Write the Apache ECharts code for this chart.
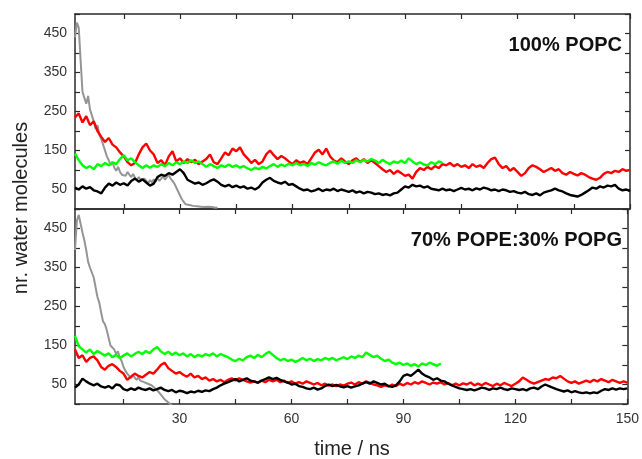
<!DOCTYPE html>
<html>
<head>
<meta charset="utf-8">
<script src="https://cdn.jsdelivr.net/npm/echarts@6/dist/echarts.min.js"></script>
<style>html,body{margin:0;padding:0;background:#fff;}#c{width:642px;height:459px;}</style>
</head>
<body>
<div id="c"></div>
<script>
// ---- data (number of water molecules vs time) ----
const T_START = 2;      // ns, first sample
const STEP = 1;         // ns between samples (red, black, green)
const GRAY_STEP = 0.5;  // ns between samples (gray)

const xTicks = [15, 30, 45, 60, 75, 90, 105, 120, 135, 150];
const xLabels = [30, 60, 90, 120, 150];

// Panel 1: 100% POPC
const popcRed = [235,245,222,238,215,225,200,185,172,182,
165,158,145,135,120,112,118,140,158,168,
150,140,118,125,112,135,148,122,130,118,
128,120,126,115,122,128,140,120,115,130,
145,138,155,148,158,140,130,118,126,115,
122,140,150,138,128,136,130,122,115,125,
118,122,115,130,145,152,140,155,135,125,
120,130,122,115,125,130,120,128,118,125,
118,110,102,95,100,90,98,92,85,88,
78,95,105,100,108,102,110,105,115,112,
118,110,115,108,112,105,115,108,112,105,
118,128,132,115,105,110,98,105,95,85,
92,105,112,108,102,95,100,105,98,102,
92,88,95,90,86,92,88,82,78,75,
80,90,95,92,98,95,102,98,100];
const popcBlack = [55,50,58,52,56,48,45,40,55,65,
60,68,62,66,60,72,78,70,76,68,
60,65,82,88,85,92,88,95,102,92,
75,70,65,68,62,66,72,76,70,62,
58,62,56,60,55,58,52,55,50,56,
68,75,80,72,68,65,70,62,64,58,
52,48,50,45,48,52,46,50,48,52,
46,50,47,44,48,42,45,40,44,42,
38,40,36,38,35,40,42,50,58,55,
62,58,60,55,58,52,50,48,52,48,
50,46,50,54,50,52,48,53,50,55,
52,48,50,46,50,48,44,46,42,40,
44,38,36,40,35,42,45,48,52,48,
45,40,36,34,32,36,42,48,55,52,
58,55,60,58,62,52,48,50,46];
const popcGreen = [142,125,112,105,110,102,115,110,118,112,
120,115,128,138,125,130,120,112,105,112,
106,112,108,115,110,118,112,120,115,122,
118,125,118,122,115,108,115,110,105,112,
108,114,108,112,106,110,104,100,106,102,
108,104,110,115,108,114,110,116,112,118,
112,116,110,118,114,120,115,112,118,122,
116,124,118,122,118,125,120,126,122,128,
124,118,126,120,115,122,118,124,118,130,
122,115,120,114,112,120,115,122,118];
const popcGray = [440,478,465,380,300,285,270,290,255,240,
225,205,215,190,180,165,150,135,125,112,
120,105,98,108,95,88,92,85,95,88,
82,90,80,74,82,75,70,78,72,66,
74,68,76,70,80,72,78,85,75,82,
88,78,72,65,55,45,35,25,18,12,
8,10,6,8,5,7,4,6,3,5,
4,6,3,5,4,3,4];

// Panel 2: 70% POPE:30% POPG
const popeRed = [140,118,125,108,118,122,112,95,88,98,
102,95,85,78,62,70,78,72,68,75,
82,78,88,100,106,92,85,78,82,75,
70,78,68,72,64,68,60,64,58,62,
56,62,66,60,66,62,58,55,58,54,
60,56,62,58,62,56,60,54,58,52,
56,52,58,54,50,54,48,52,47,50,
46,50,47,52,55,50,56,52,58,54,
50,48,44,48,45,50,46,52,48,54,
50,56,52,58,54,50,55,52,56,50,
54,48,52,48,53,50,55,48,52,48,
54,50,46,52,48,54,50,46,52,58,
68,62,56,52,56,60,64,62,68,66,
72,65,58,54,58,52,56,60,56,62,
58,64,60,56,62,58,54,58,55];
const popeBlack = [42,50,65,58,52,48,52,45,42,46,
40,50,48,38,35,40,36,42,38,36,
40,35,38,42,36,33,36,30,34,32,
28,32,30,34,31,35,33,38,42,48,
52,56,60,64,58,62,66,60,58,55,
60,64,68,64,67,62,58,55,50,52,
46,44,40,38,42,37,40,46,50,46,
49,45,43,46,42,45,48,52,56,52,
58,54,50,52,46,44,48,58,72,76,
72,80,88,78,72,68,62,66,60,58,
52,48,44,40,38,36,38,35,38,42,
40,36,40,38,42,38,36,40,38,36,
38,35,40,42,38,45,50,46,42,38,
35,32,35,30,33,30,28,30,27,30,
28,34,38,36,40,37,40,38,40];
const popeGreen = [175,148,140,132,140,128,136,130,124,130,
120,126,118,124,130,122,128,134,128,136,
130,140,146,135,128,134,126,132,125,130,
122,128,120,126,122,128,124,130,122,128,
124,120,114,110,116,112,120,124,118,126,
120,128,134,126,118,112,116,110,114,108,
112,118,112,116,110,115,112,118,114,118,
112,116,120,115,122,118,124,120,132,126,
120,124,116,110,114,106,102,106,100,104,
98,102,96,104,100,106,102,98,104];
const popeGray = [395,470,485,462,440,420,395,365,350,345,
325,300,275,260,235,212,205,190,170,150,
155,140,128,135,118,110,95,85,78,72,
66,74,70,62,68,60,64,56,60,52,
55,48,44,40,35,30,24,18,12,8,
4,2,-4,-8,-12];

// ---- chart ----
function pairs(vals, start, step) { return vals.map((v, i) => [start + i * step, v]); }

const AX = '#2a2a2a';
const FONT = 'Liberation Sans, Arial, sans-serif';

function makeX(gi, pos, labels) {
  return {
    type: 'value', gridIndex: gi, position: pos, min: 2, max: 150,
    axisLine: { show: true, onZero: false, lineStyle: { color: AX, width: 1.5 } },
    axisTick: { show: true, inside: true, length: 5, customValues: xTicks, lineStyle: { color: AX, width: 1.2 } },
    axisLabel: { show: labels, customValues: xLabels, margin: 8, fontSize: 14, color: '#333', fontFamily: FONT },
    splitLine: { show: false }
  };
}
function makeY(gi, pos, labels) {
  return {
    type: 'value', gridIndex: gi, position: pos, min: 0, max: 500, interval: 50,
    axisLine: { show: true, onZero: false, lineStyle: { color: AX, width: 1.5 } },
    axisTick: { show: true, inside: true, length: 5, lineStyle: { color: AX, width: 1.2 } },
    axisLabel: { show: labels, margin: 8, fontSize: 14, color: '#333', fontFamily: FONT,
      formatter: v => (v % 100 === 50 ? String(v) : '') },
    splitLine: { show: false }
  };
}
function line(data, color, width, xi, yi, z) {
  return { type: 'line', data: data, xAxisIndex: xi, yAxisIndex: yi, showSymbol: false, symbol: 'none',
    lineStyle: { color: color, width: width }, itemStyle: { color: color }, z: z, clip: true };
}

const chart = echarts.init(document.getElementById('c'), null, { renderer: 'canvas' });
chart.setOption({
  animation: false,
  backgroundColor: '#fff',
  grid: [
    { left: 75, top: 14, width: 555, height: 195 },
    { left: 75, top: 209, width: 555, height: 195 }
  ],
  xAxis: [makeX(0, 'bottom', false), makeX(0, 'top', false), makeX(1, 'bottom', true), makeX(1, 'top', false)],
  yAxis: [makeY(0, 'left', true), makeY(0, 'right', false), makeY(1, 'left', true), makeY(1, 'right', false)],
  series: [
    line(pairs(popcGray, T_START, GRAY_STEP), '#959595', 2, 0, 0, 2),
    line(pairs(popcRed, T_START, STEP), '#ff0000', 2.4, 0, 0, 3),
    line(pairs(popcBlack, T_START, STEP), '#000000', 2.4, 0, 0, 4),
    line(pairs(popcGreen, T_START, STEP), '#00ff00', 2.4, 0, 0, 5),
    line(pairs(popeGray, T_START, GRAY_STEP), '#959595', 2, 2, 2, 2),
    line(pairs(popeRed, T_START, STEP), '#ff0000', 2.4, 2, 2, 3),
    line(pairs(popeBlack, T_START, STEP), '#000000', 2.4, 2, 2, 4),
    line(pairs(popeGreen, T_START, STEP), '#00ff00', 2.4, 2, 2, 5)
  ],
  graphic: [
    { type: 'text', x: 622, y: 45, style: { text: '100% POPC', align: 'right', verticalAlign: 'middle',
      font: 'bold 20px ' + FONT, fill: '#111' } },
    { type: 'text', x: 622, y: 240, style: { text: '70% POPE:30% POPG', align: 'right', verticalAlign: 'middle',
      font: 'bold 20px ' + FONT, fill: '#111' } },
    { type: 'text', x: 352, y: 449, style: { text: 'time / ns', align: 'center', verticalAlign: 'middle',
      font: '20px ' + FONT, fill: '#222' } },
    { type: 'text', x: 21, y: 208, rotation: Math.PI / 2, style: { text: 'nr. water molecules', align: 'center',
      verticalAlign: 'middle', font: '20px ' + FONT, fill: '#222' } }
  ]
});
</script>
</body>
</html>
